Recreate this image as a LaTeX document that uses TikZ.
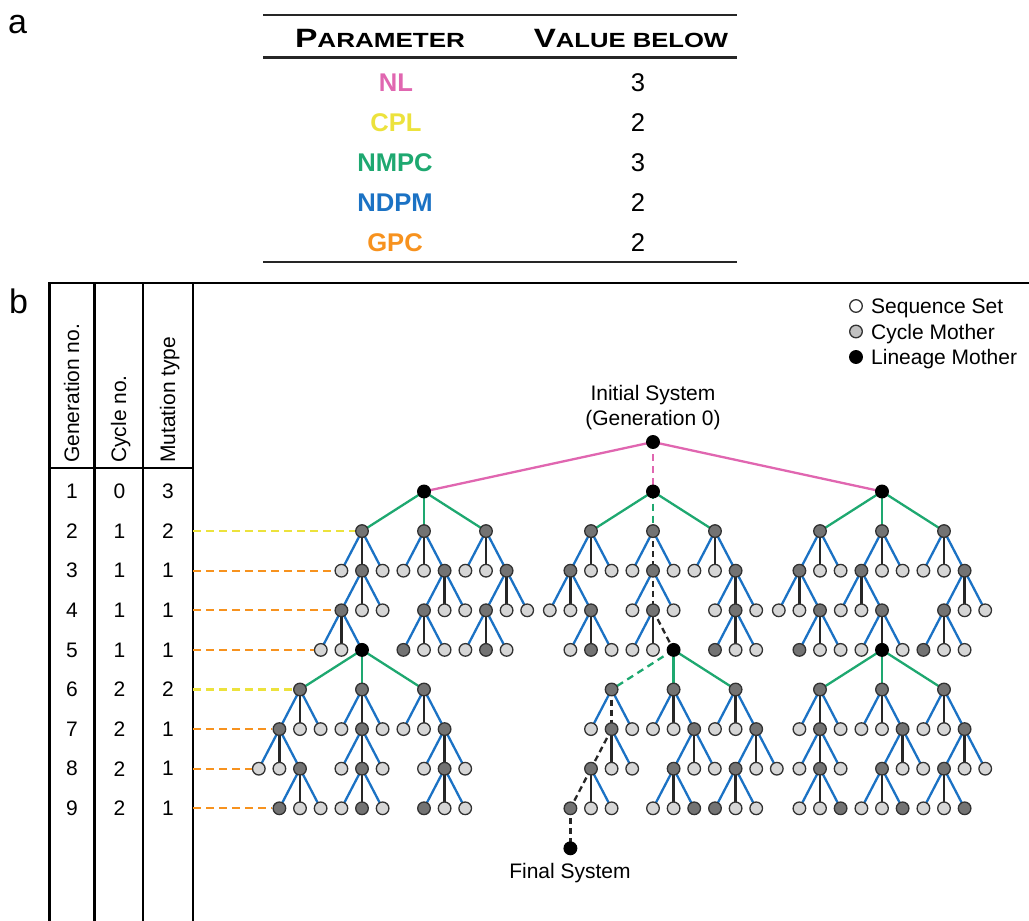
\documentclass[tikz,border=0pt]{standalone}
\usepackage{fontspec}
\usepackage{graphicx}
\setmainfont{Liberation Sans}
\usetikzlibrary{backgrounds}
\definecolor{cblue}{RGB}{27,114,196}
\definecolor{cgreen}{RGB}{30,168,112}
\definecolor{cpink}{RGB}{224,102,176}
\definecolor{cyel}{RGB}{236,226,60}
\definecolor{corange}{RGB}{247,146,30}
\definecolor{clight}{RGB}{214,214,214}
\definecolor{cdark}{RGB}{115,115,115}
\definecolor{cline}{RGB}{50,50,50}
\tikzset{
 nd/.style={circle, draw=cline, line width=1.3pt, minimum size=12.6pt, inner sep=0pt},
 lt/.style={nd, fill=clight},
 dk/.style={nd, fill=cdark},
 bk/.style={nd, fill=black, draw=black},
 lgw/.style={nd, fill=white},
 lgg/.style={nd, fill=clight!90!black},
 bl/.style={cblue, line width=2.3pt},
 md/.style={black!85, line width=2.3pt},
 ds/.style={black!85, line width=2.3pt, dash pattern=on 6pt off 4pt},
 gr/.style={cgreen, line width=2.3pt},
 gd/.style={cgreen, line width=2.3pt, dash pattern=on 7pt off 5pt},
 pk/.style={cpink, line width=2.3pt},
 pd/.style={cpink, line width=2.3pt, dash pattern=on 7pt off 5pt},
 yd/.style={cyel, line width=2.3pt, dash pattern=on 8pt off 5pt},
 od/.style={corange, line width=2.3pt, dash pattern=on 8pt off 5pt},
 rulez/.style={black, line width=2.2pt},
 arule/.style={black!85, line width=2.6pt},
 txt/.style={inner sep=0pt, font=\fontsize{21}{25}\selectfont},
 par/.style={inner sep=0pt, font=\bfseries\fontsize{25.6}{30}\selectfont},
 val/.style={inner sep=0pt, font=\fontsize{25.6}{30}\selectfont},
}
% #1 parent, #2 child prefix, #3 dx, #4-#6 node styles, #7-#9 edge styles
\newcommand\trio[9]{%
  \node[#4] (#2l) at ([shift={(-#3,39.6)}]#1.center) {};
  \node[#5] (#2m) at ([shift={(0,39.6)}]#1.center) {};
  \node[#6] (#2r) at ([shift={(#3,39.6)}]#1.center) {};
  \begin{scope}[on background layer]
    \draw[#7] (#1.center) -- (#2l.center);
    \draw[#8] (#1.center) -- (#2m.center);
    \draw[#9] (#1.center) -- (#2r.center);
  \end{scope}}
\newcommand\ta[5]{\trio{#1}{#2}{20.6}{#3}{#4}{#5}{bl}{md}{bl}}
\newcommand\tb[5]{\trio{#1}{#2}{62}{#3}{#4}{#5}{gr}{gr}{gr}}
\begin{document}
\begin{tikzpicture}[x=1pt,y=-1pt]
\useasboundingbox (0,0) rectangle (1029,921);
% ---------- panel a ----------
\node[inner sep=0pt, anchor=base west, font=\fontsize{34}{40}\selectfont] (la) at (8,33) {a};
\draw[arule] (263,15) -- (737,15);
\draw[arule] (263,57.5) -- (737,57.5);
\draw[arule] (263,262) -- (737,262);
\node[inner sep=0pt, anchor=base] (hp) at (380,47) {\bfseries\scalebox{1.27}[1]{\fontsize{26.5}{30}\selectfont P\fontsize{20.5}{24}\selectfont ARAMETER}};
\node[inner sep=0pt, anchor=base] (hv) at (631,47) {\bfseries\scalebox{1.25}[1]{\fontsize{26.5}{30}\selectfont V\fontsize{20.5}{24}\selectfont ALUE BELOW}};
\node[par, text=cpink] (p1) at (396,82.5) {NL};
\node[par, text=cyel] (p2) at (396,122.5) {CPL};
\node[par, text=cgreen] (p3) at (395,162.5) {NMPC};
\node[par, text=cblue] (p4) at (395,202.5) {NDPM};
\node[par, text=corange] (p5) at (395,242.5) {GPC};
\node[val] (v1) at (638,82.5) {3};
\node[val] (v2) at (638,122.5) {2};
\node[val] (v3) at (638,162.5) {3};
\node[val] (v4) at (638,202.5) {2};
\node[val] (v5) at (638,242.5) {2};
% ---------- panel b: table ----------
\node[inner sep=0pt, anchor=base west, font=\fontsize{34}{40}\selectfont] (lb) at (9,313) {b};
\draw[rulez] (49.5,921) -- (49.5,283) -- (1029,283);
\draw[rulez] (94.5,283) -- (94.5,921);
\draw[rulez] (143,283) -- (143,921);
\draw[rulez] (193,283) -- (193,921);
\draw[rulez] (49.5,468) -- (193,468);
\coordinate (tabR) at (193,300);
\node[txt, rotate=90, anchor=base west] (h1) at (79,463) {Generation no.};
\node[txt, rotate=90, anchor=base west] (h2) at (126,463) {Cycle no.};
\node[txt, rotate=90, anchor=base west] (h3) at (175,463) {Mutation type};
\foreach \g/\c/\m in {1/0/3,2/1/2,3/1/1,4/1/1,5/1/1,6/2/2,7/2/1,8/2/1,9/2/1}{
  \node[txt] (gn\g) at (72,{491.5+(\g-1)*39.6}) {\g};
  \node[txt] (cn\g) at (119.5,{491.5+(\g-1)*39.6}) {\c};
  \node[txt] (mt\g) at (168,{491.5+(\g-1)*39.6}) {\m};
}
% ---------- legend ----------
\node[lgw] (k1) at (856,306) {};
\node[lgg] (k2) at (856,331.5) {};
\node[bk] (k3) at (856,357) {};
\node[txt, anchor=base west] (kt1) at (871,313.5) {Sequence Set};
\node[txt, anchor=base west] (kt2) at (871,339) {Cycle Mother};
\node[txt, anchor=base west] (kt3) at (871,364.5) {Lineage Mother};
% ---------- tree ----------
\node[txt, align=center] (init) at (653,408) {Initial System\\(Generation 0)};
\node[bk] (R) at (653,442) {};
\node[bk] (Rl) at (424,491.5) {};
\node[bk] (Rm) at (653,491.5) {};
\node[bk] (Rr) at (882,491.5) {};
\begin{scope}[on background layer]
  \draw[pk] (R.center) -- (Rl.center);
  \draw[pd] (R.center) -- (Rm.center);
  \draw[pk] (R.center) -- (Rr.center);
\end{scope}
% gen 2
\tb{Rl}{Rl}{dk}{dk}{dk}
\trio{Rm}{Rm}{62}{dk}{dk}{dk}{gr}{gd}{gr}
\tb{Rr}{Rr}{dk}{dk}{dk}
% gen 3
\ta{Rll}{Rll}{lt}{dk}{lt}
\ta{Rlm}{Rlm}{lt}{lt}{dk}
\ta{Rlr}{Rlr}{lt}{lt}{dk}
\ta{Rml}{Rml}{dk}{lt}{lt}
\trio{Rmm}{Rmm}{20.6}{lt}{dk}{lt}{bl}{ds}{bl}
\ta{Rmr}{Rmr}{lt}{lt}{dk}
\ta{Rrl}{Rrl}{dk}{lt}{lt}
\ta{Rrm}{Rrm}{dk}{lt}{lt}
\ta{Rrr}{Rrr}{lt}{lt}{dk}
% gen 4
\ta{Rllm}{Rllm}{dk}{lt}{lt}
\ta{Rlmr}{Rlmr}{dk}{lt}{lt}
\ta{Rlrr}{Rlrr}{dk}{lt}{lt}
\ta{Rmll}{Rmll}{lt}{lt}{dk}
\trio{Rmmm}{Rmmm}{20.6}{lt}{dk}{lt}{bl}{ds}{bl}
\ta{Rmrr}{Rmrr}{lt}{dk}{lt}
\ta{Rrll}{Rrll}{lt}{lt}{dk}
\ta{Rrml}{Rrml}{lt}{lt}{dk}
\ta{Rrrr}{Rrrr}{dk}{lt}{lt}
% gen 5
\ta{Rllml}{Rllml}{lt}{lt}{bk}
\ta{Rlmrl}{Rlmrl}{dk}{lt}{lt}
\ta{Rlrrl}{Rlrrl}{lt}{dk}{lt}
\ta{Rmllr}{Rmllr}{lt}{dk}{lt}
\trio{Rmmmm}{Rmmmm}{20.6}{lt}{lt}{bk}{bl}{md}{ds}
\ta{Rmrrm}{Rmrrm}{dk}{lt}{lt}
\ta{Rrllr}{Rrllr}{dk}{lt}{lt}
\ta{Rrmlr}{Rrmlr}{lt}{bk}{lt}
\ta{Rrrrl}{Rrrrl}{dk}{lt}{lt}
% gen 6
\tb{Rllmlr}{P}{dk}{dk}{dk}
\trio{Rmmmmr}{Q}{62}{dk}{dk}{dk}{gd}{gr}{gr}
\tb{Rrmlrm}{S}{dk}{dk}{dk}
% gen 7
\ta{Pl}{Pl}{dk}{lt}{lt}
\ta{Pm}{Pm}{lt}{dk}{lt}
\ta{Pr}{Pr}{lt}{lt}{dk}
\trio{Ql}{Ql}{20.6}{lt}{dk}{lt}{bl}{ds}{bl}
\ta{Qm}{Qm}{lt}{lt}{dk}
\ta{Qr}{Qr}{lt}{lt}{dk}
\ta{Sl}{Sl}{lt}{dk}{lt}
\ta{Sm}{Sm}{lt}{lt}{dk}
\ta{Sr}{Sr}{lt}{lt}{dk}
% gen 8
\ta{Pll}{Pll}{lt}{lt}{dk}
\ta{Pmm}{Pmm}{lt}{dk}{lt}
\ta{Prr}{Prr}{lt}{dk}{lt}
\trio{Qlm}{Qlm}{20.6}{dk}{lt}{lt}{ds}{md}{bl}
\ta{Qmr}{Qmr}{dk}{lt}{lt}
\ta{Qrr}{Qrr}{dk}{lt}{lt}
\ta{Slm}{Slm}{lt}{dk}{lt}
\ta{Smr}{Smr}{dk}{lt}{lt}
\ta{Srr}{Srr}{dk}{lt}{lt}
% gen 9
\ta{Pllr}{Pllr}{dk}{lt}{lt}
\ta{Pmmm}{Pmmm}{lt}{dk}{lt}
\ta{Prrm}{Prrm}{dk}{lt}{lt}
\trio{Qlml}{Qlml}{20.6}{dk}{lt}{lt}{ds}{md}{bl}
\ta{Qmrl}{Qmrl}{lt}{lt}{dk}
\ta{Qrrl}{Qrrl}{dk}{lt}{lt}
\ta{Slmm}{Slmm}{lt}{lt}{dk}
\ta{Smrl}{Smrl}{lt}{lt}{dk}
\ta{Srrl}{Srrl}{lt}{lt}{dk}
% final system
\node[bk] (F) at ([shift={(0,40)}]Qlmll.center) {};
\begin{scope}[on background layer]
  \draw[ds] (Qlmll.center) -- (F.center);
\end{scope}
\node[txt, anchor=base] (fin) at (570,878.5) {Final System};
% generation guide lines
\draw[yd] (Rll -| tabR) -- (Rll);
\draw[od] (Rlll -| tabR) -- (Rlll);
\draw[od] (Rllml -| tabR) -- (Rllml);
\draw[od] (Rllmll -| tabR) -- (Rllmll);
\draw[yd] (Pl -| tabR) -- (Pl);
\draw[od] (Pll -| tabR) -- (Pll);
\draw[od] (Plll -| tabR) -- (Plll);
\draw[od] (Pllrl -| tabR) -- (Pllrl);
\end{tikzpicture}
\end{document}
